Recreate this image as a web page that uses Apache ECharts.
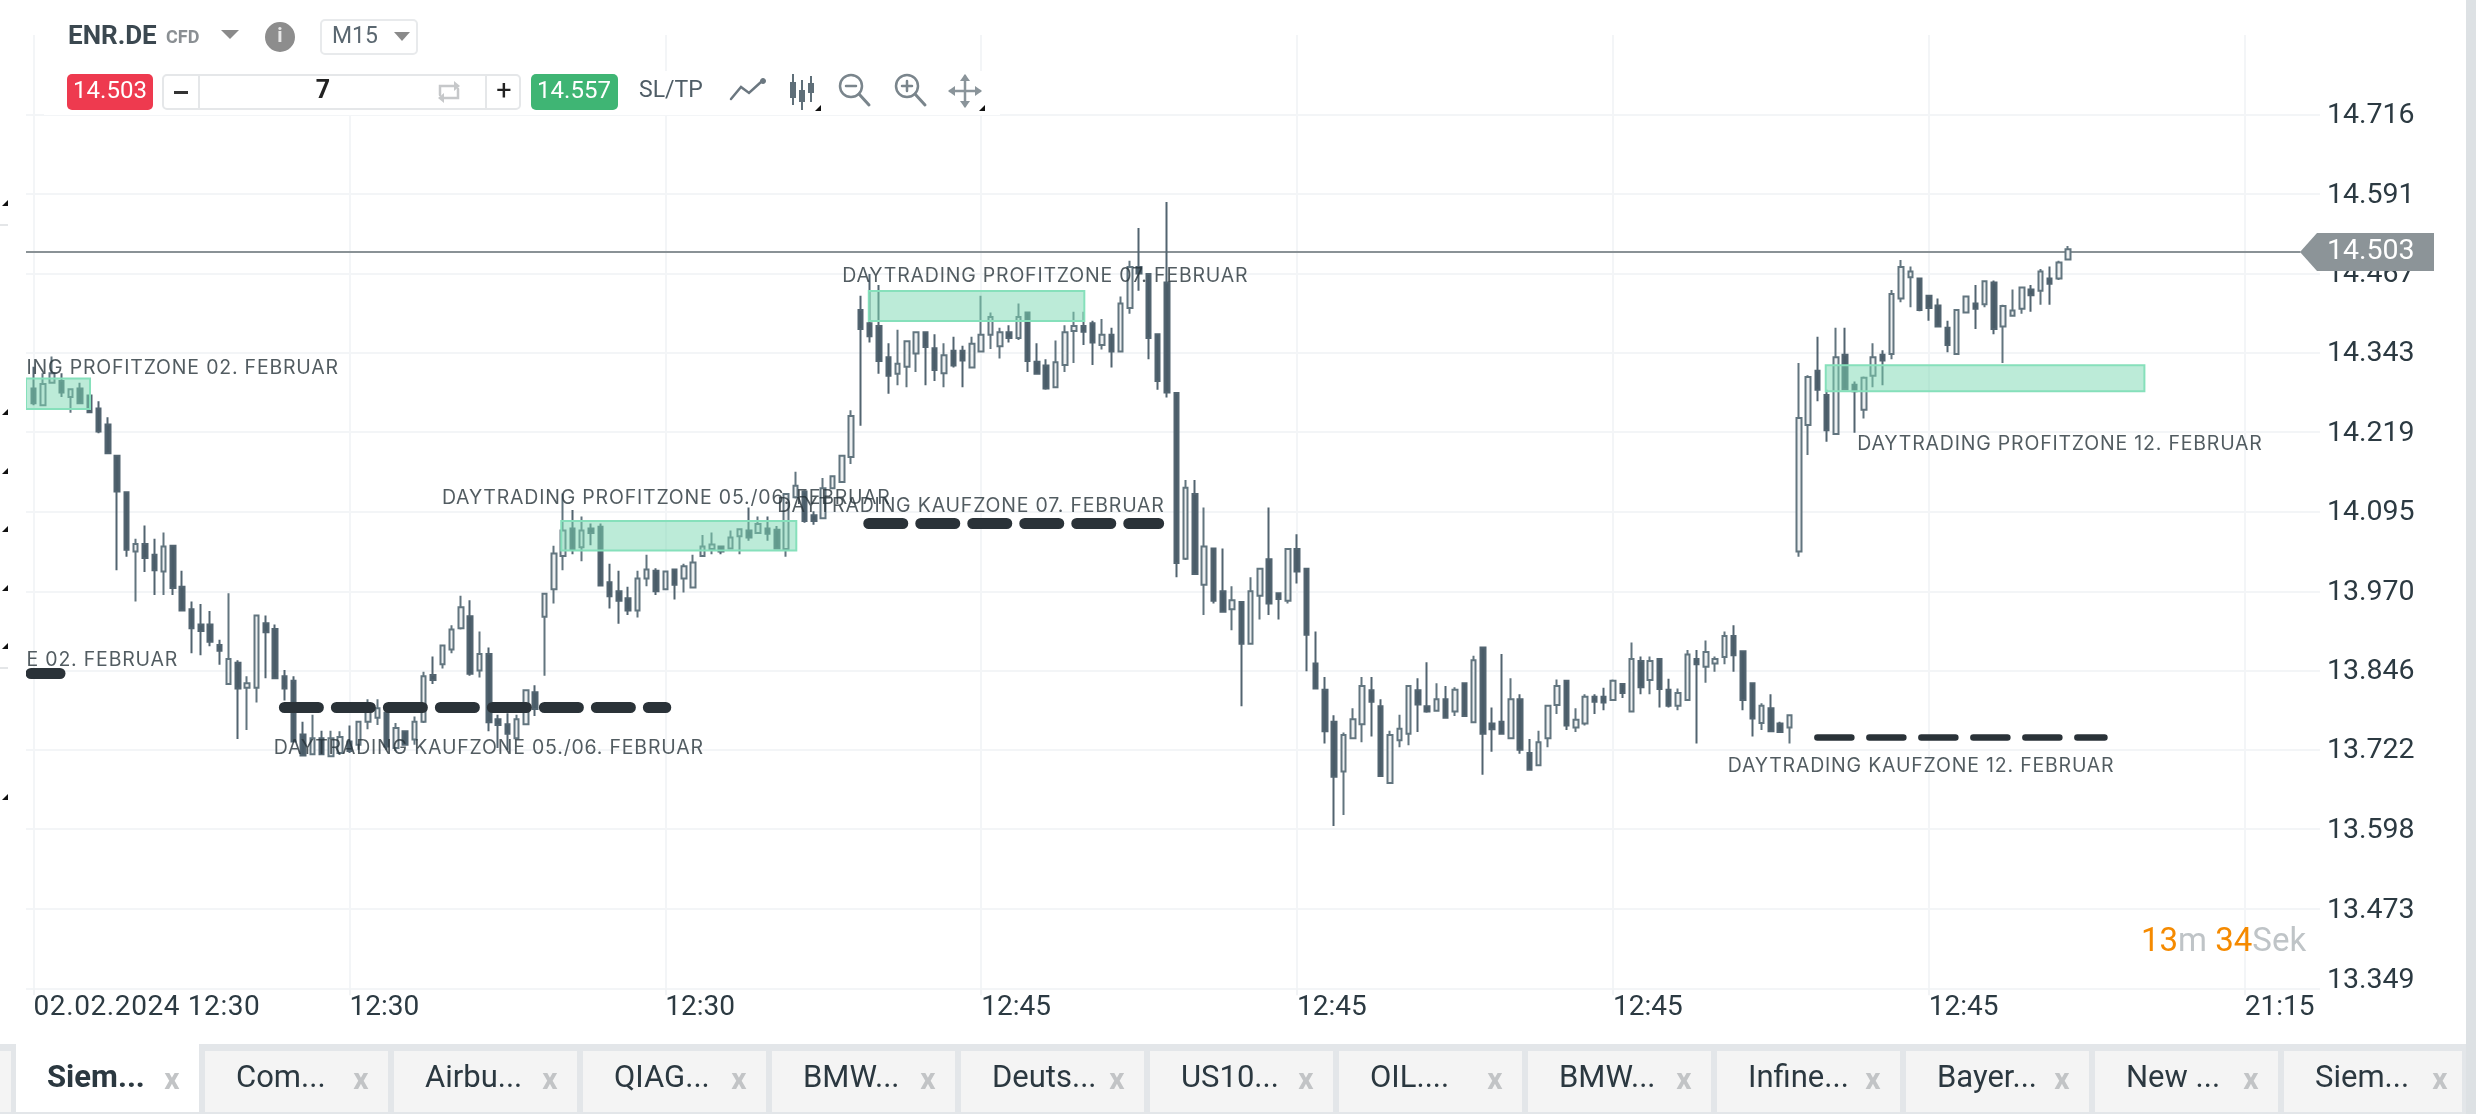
<!DOCTYPE html>
<html>
<head>
<meta charset="utf-8">
<title>ENR.DE M15</title>
<style>
  html,body{margin:0;padding:0;background:#fff;}
  #chart{width:2476px;height:1114px;}
</style>
<script src="https://cdn.jsdelivr.net/npm/echarts@6/dist/echarts.min.js"></script>
</head>
<body>
<div id="chart"></div>
<script>
// kerzen (rows of 10)
const opens = [
  14.287,14.261,14.296,14.299,14.274,14.287,14.276,14.256,14.231,14.182,
  14.125,14.032,14.044,14.027,14.001,14.041,13.977,13.942,13.918,13.918,
  13.886,13.825,13.858,13.819,13.819,13.920,13.911,13.837,13.830,13.746,
  13.715,13.740,13.712,13.717,13.735,13.730,13.766,13.772,13.780,13.725,
  13.751,13.738,13.766,13.839,13.856,13.879,13.912,13.931,13.846,13.872,
  13.770,13.762,13.740,13.762,13.812,13.930,13.973,14.025,14.068,14.039,
  14.068,14.071,13.984,13.970,13.959,13.940,13.990,14.002,13.973,14.004,
  13.990,13.976,14.025,14.036,14.040,14.037,14.056,14.065,14.061,14.068,
  14.066,14.036,14.117,14.126,14.089,14.084,14.131,14.141,14.180,14.410,
  14.389,14.385,14.336,14.310,14.321,14.342,14.375,14.350,14.311,14.346,
  14.346,14.320,14.345,14.371,14.353,14.375,14.366,14.406,14.329,14.323,
  14.289,14.324,14.377,14.385,14.389,14.355,14.371,14.345,14.413,14.477,
  14.466,14.372,14.453,14.280,14.021,14.122,13.980,14.037,13.970,13.942,
  13.953,13.888,13.963,14.020,13.967,13.955,14.036,14.005,13.857,13.816,
  13.766,13.688,13.740,13.762,13.815,13.790,13.670,13.737,13.747,13.815,
  13.790,13.783,13.801,13.782,13.826,13.765,13.882,13.763,13.766,13.740,
  13.801,13.717,13.698,13.740,13.792,13.830,13.757,13.763,13.805,13.805,
  13.800,13.825,13.782,13.861,13.831,13.864,13.816,13.791,13.800,13.864,
  13.852,13.857,13.867,13.900,13.876,13.826,13.764,13.787,13.763,13.757,
  14.032,14.230,14.315,14.277,14.216,14.340,14.293,14.254,14.307,14.340,
  14.341,14.428,14.461,14.459,14.432,14.417,14.382,14.341,14.406,14.420,
  14.419,14.453,14.384,14.401,14.412,14.442,14.440,14.459,14.459,14.489
];
const closes = [
  14.264,14.294,14.311,14.281,14.286,14.264,14.250,14.220,14.186,14.126,
  14.035,14.044,14.022,14.003,14.040,13.975,13.940,13.912,13.908,13.891,
  13.877,13.864,13.818,13.826,13.932,13.906,13.834,13.818,13.735,13.713,
  13.740,13.715,13.740,13.742,13.720,13.766,13.787,13.787,13.727,13.756,
  13.730,13.766,13.837,13.831,13.885,13.910,13.945,13.841,13.872,13.765,
  13.761,13.747,13.770,13.815,13.786,13.966,14.029,14.065,14.036,14.065,
  14.061,13.979,13.962,13.955,13.940,13.990,14.004,13.970,14.001,13.980,
  14.009,14.015,14.040,14.043,14.032,14.054,14.067,14.054,14.075,14.060,
  14.037,14.122,14.135,14.080,14.080,14.131,14.150,14.182,14.244,14.380,
  14.369,14.330,14.307,14.326,14.361,14.375,14.352,14.316,14.339,14.323,
  14.331,14.357,14.371,14.399,14.375,14.366,14.399,14.330,14.310,14.287,
  14.328,14.375,14.385,14.376,14.359,14.371,14.345,14.420,14.477,14.467,
  14.366,14.299,14.281,14.014,14.132,13.997,14.040,13.955,13.938,13.956,
  13.888,13.970,14.005,13.951,13.958,14.036,14.001,13.902,13.818,13.751,
  13.680,13.745,13.770,13.822,13.797,13.681,13.745,13.755,13.822,13.793,
  13.782,13.801,13.772,13.816,13.775,13.862,13.747,13.754,13.747,13.801,
  13.722,13.691,13.734,13.791,13.822,13.760,13.769,13.805,13.797,13.796,
  13.830,13.811,13.864,13.820,13.861,13.817,13.791,13.811,13.871,13.856,
  13.875,13.864,13.900,13.870,13.800,13.771,13.791,13.751,13.750,13.776,
  14.241,14.305,14.285,14.222,14.336,14.286,14.283,14.304,14.336,14.331,
  14.435,14.477,14.470,14.410,14.413,14.384,14.355,14.410,14.431,14.412,
  14.455,14.380,14.416,14.409,14.445,14.433,14.470,14.451,14.484,14.505
];
const lows = [
  14.261,14.260,14.295,14.274,14.249,14.263,14.249,14.217,14.185,14.003,
  14.024,13.954,14.000,13.964,13.964,13.964,13.939,13.873,13.870,13.884,
  13.855,13.824,13.739,13.753,13.796,13.834,13.834,13.799,13.735,13.712,
  13.715,13.714,13.711,13.714,13.717,13.722,13.754,13.761,13.722,13.720,
  13.729,13.730,13.764,13.825,13.849,13.873,13.910,13.838,13.835,13.751,
  13.725,13.722,13.740,13.761,13.775,13.838,13.951,14.003,14.028,14.017,
  14.042,13.978,13.943,13.919,13.933,13.929,13.978,13.964,13.972,13.957,
  13.968,13.975,14.024,14.028,14.028,14.036,14.028,14.049,14.060,14.049,
  14.036,14.024,14.115,14.077,14.074,14.084,14.131,14.140,14.169,14.229,
  14.359,14.310,14.279,14.292,14.289,14.313,14.292,14.299,14.289,14.320,
  14.289,14.320,14.344,14.349,14.334,14.359,14.363,14.313,14.309,14.285,
  14.289,14.313,14.327,14.355,14.324,14.348,14.320,14.344,14.404,14.440,
  14.333,14.285,14.273,13.992,14.019,13.997,13.933,13.951,13.937,13.909,
  13.790,13.888,13.926,13.933,13.926,13.951,13.982,13.845,13.817,13.732,
  13.603,13.620,13.740,13.734,13.743,13.680,13.669,13.726,13.729,13.750,
  13.780,13.782,13.771,13.775,13.774,13.765,13.683,13.719,13.747,13.739,
  13.716,13.690,13.697,13.726,13.778,13.753,13.750,13.760,13.778,13.784,
  13.799,13.803,13.781,13.809,13.809,13.788,13.788,13.784,13.799,13.732,
  13.827,13.844,13.856,13.844,13.784,13.743,13.753,13.750,13.750,13.732,
  14.024,14.183,14.267,14.204,14.215,14.286,14.218,14.240,14.289,14.292,
  14.333,14.422,14.414,14.408,14.393,14.383,14.344,14.341,14.405,14.380,
  14.414,14.372,14.327,14.401,14.404,14.407,14.418,14.418,14.457,14.488
];
const highs = [
  14.321,14.311,14.337,14.311,14.287,14.296,14.277,14.267,14.242,14.182,
  14.126,14.052,14.073,14.052,14.062,14.041,14.002,13.954,13.950,13.939,
  13.894,13.967,13.862,13.837,13.932,13.932,13.918,13.847,13.837,13.766,
  13.777,13.752,13.752,13.751,13.760,13.766,13.801,13.801,13.781,13.764,
  13.751,13.774,13.844,13.868,13.886,13.917,13.963,13.956,13.907,13.882,
  13.777,13.779,13.777,13.815,13.823,13.966,14.041,14.123,14.097,14.087,
  14.076,14.076,14.013,14.002,13.977,14.002,14.027,14.006,14.001,14.005,
  14.013,14.027,14.058,14.062,14.041,14.065,14.068,14.101,14.087,14.087,
  14.072,14.122,14.157,14.128,14.095,14.147,14.151,14.182,14.253,14.432,
  14.466,14.449,14.358,14.379,14.362,14.375,14.375,14.372,14.358,14.368,
  14.354,14.368,14.432,14.406,14.382,14.386,14.420,14.407,14.358,14.333,
  14.362,14.386,14.407,14.407,14.393,14.396,14.382,14.431,14.487,14.538,
  14.467,14.372,14.579,14.281,14.144,14.144,14.101,14.038,14.037,13.978,
  13.953,13.992,14.006,14.101,13.968,14.037,14.059,14.006,13.907,13.836,
  13.776,13.749,13.787,13.836,13.836,13.801,13.752,13.777,13.823,13.834,
  13.859,13.826,13.822,13.820,13.826,13.869,13.883,13.788,13.872,13.834,
  13.809,13.739,13.752,13.792,13.832,13.830,13.787,13.809,13.809,13.819,
  13.832,13.826,13.890,13.868,13.868,13.865,13.833,13.818,13.878,13.878,
  13.893,13.868,13.907,13.917,13.876,13.826,13.795,13.809,13.766,13.777,
  14.327,14.308,14.368,14.285,14.382,14.382,14.298,14.306,14.358,14.347,
  14.441,14.488,14.478,14.460,14.432,14.428,14.393,14.410,14.431,14.449,
  14.456,14.456,14.418,14.442,14.445,14.449,14.474,14.478,14.487,14.510
];

const priceTicks = [14.716,14.591,14.467,14.343,14.219,14.095,13.970,13.846,13.722,13.598,13.473,13.349];
const timeTicks = [0,34,68,102,136,170,204,238];
const timeLabels = ['02.02.2024 12:30','12:30','12:30','12:45','12:45','12:45','12:45','21:15'];
const lastPrice = 14.5005;

// [von, bis, oben, unten]
const profitZones = [
  [-0.81,6.08,14.3026,14.2552],
  [56.8,82.1,14.080,14.0336],
  [89.9,113.1,14.4397,14.3928],
  [192.9,227.2,14.3235,14.2828]
];
// [von, bis, preis, strichstaerke]
const buyZones = [
  [-0.27,2.85,13.841,11],
  [27.0,68.05,13.788,11],
  [89.9,121.1,14.077,11],
  [192.0,222.9,13.742,6.5]
];
const noteX = [-0.81,-0.81,25.8,43.9,80.0,87.0,196.25,182.3];
const noteY = [14.3187,13.863,13.725,14.1164,14.1026,14.4632,14.2005,13.697];
const noteText = [
  'ING PROFITZONE 02. FEBRUAR',
  'E 02. FEBRUAR',
  'DAYTRADING KAUFZONE 05./06. FEBRUAR',
  'DAYTRADING PROFITZONE 05./06. FEBRUAR',
  'DAYTRADING KAUFZONE 07. FEBRUAR',
  'DAYTRADING PROFITZONE 07. FEBRUAR',
  'DAYTRADING PROFITZONE 12. FEBRUAR',
  'DAYTRADING KAUFZONE 12. FEBRUAR'
];
const tabNames = ['Siem...','Com...','Airbu...','QIAG...','BMW...','Deuts...','US10...','OIL....','BMW...','Infine...','Bayer...','New ...','Siem...'];

const FONT = 'Roboto';

// zrender kennt kein letter-spacing, die notizen sind im original gesperrt
const rawFillText = CanvasRenderingContext2D.prototype.fillText;
CanvasRenderingContext2D.prototype.fillText = function(t,x,y,w){
  this.letterSpacing = this.font.includes('Inter') ? '0.8px' : (String(t).startsWith('02.02') ? '0.6px' : '0px');
  return rawFillText.call(this,t,x,y,w);
};

const chart = echarts.init(document.getElementById('chart'));

const rect = (x,y,w,h,fill,r,stroke,z)=>({type:'rect',shape:{x,y,width:w,height:h,r:r||0},
  style:{fill,stroke:stroke||null,lineWidth:stroke?2:0},z:z||20,silent:true});
const txt = (x,y,text,size,fill,opt)=>({type:'text',x,y,z:(opt&&opt.z)||21,silent:true,
  style:Object.assign({text,fill,font:`${(opt&&opt.weight)||'normal'} ${size}px ${FONT}`,
    textVerticalAlign:'middle',textAlign:(opt&&opt.align)||'left'},opt&&opt.style)});
const tri = (pts,fill,z)=>({type:'polygon',shape:{points:pts},style:{fill},z:z||21,silent:true});
const poly = (pts,stroke,w)=>({type:'polyline',shape:{points:pts},style:{stroke,lineWidth:w||2,fill:null,lineCap:'round'},z:21,silent:true});
const circ = (cx,cy,r,stroke,w,fill)=>({type:'circle',shape:{cx,cy,r},style:{stroke,lineWidth:w||2,fill:fill||'none'},z:21,silent:true});

function chrome(){
  const g = [];
  // linker rand + streifen rechts
  g.push(rect(0,0,26,1044,'#fff',0,null,18));
  g.push(rect(2466,0,10,1114,'#dde1e4'));
  [412,471,529,588,646,797,203].forEach(y=>g.push(tri([[2,y+3],[8,y+3],[8,y-3]],'#111')));
  g.push(rect(0,224,8,2,'#e4e6e8'));
  g.push(rect(0,667,8,2,'#e4e6e8'));

  // toolbar
  g.push(rect(44,35,386,36,'#fff',0,null,18));
  g.push(rect(44,71,956,44,'#fff',0,null,18));
  g.push(txt(68,37,'ENR.DE',26,'#3b4850',{weight:'bold'}));
  g.push(txt(166,38,'CFD',18,'#8a8f93',{weight:'bold'}));
  g.push(tri([[221,30],[239,30],[230,39]],'#8a8a8a'));
  g.push(circ(280,37,14,'#8d8d8d',0,'#8d8d8d'));
  g.push(txt(280,37,'i',20,'#e8e8e8',{weight:'bold',align:'center'}));
  g.push(rect(321,20,96,34,'#fff',4,'#e8eaec'));
  g.push(txt(332,37,'M15',23,'#5a6770'));
  g.push(tri([[394,32],[410,32],[402,41]],'#8a8a8a'));

  g.push(rect(67,74,86,36,'#ee3a4f',5));
  g.push(txt(110,92,'14.503',24,'#fff',{align:'center'}));
  g.push(rect(163,75,357,34,'#fff',4,'#e5e7e9'));
  g.push(rect(198,75,2,34,'#e5e7e9'));
  g.push(rect(485,75,2,34,'#e5e7e9'));
  g.push(rect(174,91,14,3,'#333'));
  g.push(txt(323,92,'7',25,'#222',{align:'center',weight:'bold'}));
  g.push(txt(504,92,'+',27,'#222',{align:'center'}));
  g.push(poly([[440,95],[440,86],[457,86]],'#c6c8ca',2.5));
  g.push(tri([[454,81],[460,86],[454,91]],'#c6c8ca'));
  g.push(poly([[458,89],[458,98],[441,98]],'#c6c8ca',2.5));
  g.push(tri([[444,93],[438,98],[444,103]],'#c6c8ca'));
  g.push(rect(531,74,87,36,'#3fb574',5));
  g.push(txt(574,92,'14.557',24,'#fff',{align:'center'}));
  g.push(txt(639,91,'SL/TP',23,'#4f5d66'));

  // icons
  g.push(poly([[731,99],[741,87],[749,93],[761,82]],'#6b7780',2.5));
  g.push(circ(763,81,2.5,'#6b7780',1,'#6b7780'));
  [[793,90,74,105,16],[802,96,80,110,12],[811,88,76,102,10]].forEach(c=>{
    g.push(rect(c[0]-1,c[2],2,c[3]-c[2],'#5f6f79'));
    g.push(rect(c[0]-3,c[1]-c[4]/2,6,c[4],'#5f6f79'));
  });
  g.push(tri([[815,111],[821,111],[821,105]],'#111'));
  g.push(circ(851,86,11,'#7a858c',2.5));
  g.push(poly([[859,94],[869,105]],'#7a858c',3));
  g.push(poly([[846,86],[856,86]],'#7a858c',2.5));
  g.push(circ(907,86,11,'#7a858c',2.5));
  g.push(poly([[915,94],[925,105]],'#7a858c',3));
  g.push(poly([[902,86],[912,86]],'#7a858c',2.5));
  g.push(poly([[907,81],[907,91]],'#7a858c',2.5));
  g.push(poly([[965,76],[965,106]],'#8a949a',2.5));
  g.push(poly([[950,91],[980,91]],'#8a949a',2.5));
  g.push(tri([[960,81],[970,81],[965,74]],'#8a949a'));
  g.push(tri([[960,101],[970,101],[965,108]],'#8a949a'));
  g.push(tri([[955,86],[955,96],[948,91]],'#8a949a'));
  g.push(tri([[975,86],[975,96],[982,91]],'#8a949a'));
  g.push(tri([[979,111],[985,111],[985,105]],'#111'));

  // countdown
  g.push({type:'text',x:2141,y:943,z:21,silent:true,style:{
    text:'{o|13}{g|m }{o|34}{g|Sek}',textVerticalAlign:'middle',
    rich:{o:{fill:'#f58a00',font:`33px ${FONT}`},g:{fill:'#bfc4c7',font:`33px ${FONT}`}}}});

  // tabs
  g.push(rect(0,1044,2466,70,'#e3e6e9'));
  g.push(rect(0,1051,11,61,'#f4f4f4'));
  tabNames.forEach((name,i)=>{
    const active = i===0;
    const x = 16+189*i;
    const w = i===tabNames.length-1 ? 178 : 183;
    g.push(active ? rect(x,1044,w,68,'#fff') : rect(x,1051,w,61,'#f4f4f4'));
    g.push(txt(x+31,1079,name,31,'#2b3840',{weight:active?'bold':'normal'}));
    g.push(txt(172+189*i,1081,'x',30,'#c2c4c6',{align:'center',weight:'bold'}));
  });

  // preis-tag, an die y-achse gehaengt
  const py = chart.convertToPixel({yAxisIndex:0},lastPrice);
  g.push(tri([[2300,py],[2317,py-19],[2434,py-19],[2434,py+19],[2317,py+19]],'#8c9498'));
  g.push(txt(2327,py,'14.503',28.5,'#fff'));
  return g;
}

chart.setOption({
  animation:false,
  backgroundColor:'#fff',
  grid:{left:26,right:156,top:35,bottom:125.7},
  xAxis:{
    type:'value',min:-0.81,max:246.1,
    axisLine:{show:false},
    axisTick:{show:true,length:7,customValues:timeTicks,lineStyle:{color:'#f1f3f5',width:2}},
    splitLine:{show:true,lineStyle:{color:'#f3f5f7',width:2}},
    axisLabel:{
      customValues:timeTicks,align:'left',margin:6,hideOverlap:false,
      color:'#2c3a42',fontFamily:FONT,fontSize:28,
      formatter:v=>timeLabels[timeTicks.indexOf(v)]
    }
  },
  yAxis:{
    type:'value',position:'right',min:13.349,max:14.840,scale:true,
    axisLine:{show:false},
    axisTick:{show:false,customValues:priceTicks},
    splitLine:{show:true,lineStyle:{color:'#f3f5f7',width:2}},
    axisLabel:{
      customValues:priceTicks,margin:7,color:'#2c3a42',fontFamily:FONT,fontSize:28.5,padding:[3,0,0,0],
      formatter:v=>v===13.349?'{low|13.349}':v.toFixed(3),
      rich:{low:{color:'#2c3a42',fontFamily:FONT,fontSize:28.5,padding:[0,0,18,0]}}
    }
  },
  series:[
    {
      name:'ENR.DE',type:'candlestick',z:3,barWidth:5,clip:true,
      data:opens.map((o,i)=>[i,o,closes[i],lows[i],highs[i]]),
      encode:{x:0,y:[1,2,3,4]},
      itemStyle:{color:'#eef1f2',color0:'#4a5c68',borderColor:'#62757f',borderColor0:'#526470',borderWidth:2},
      markLine:{
        silent:true,symbol:'none',z:1,animation:false,label:{show:false},
        lineStyle:{color:'#8a9296',width:2,type:'solid'},
        data:[[{coord:[-0.81,lastPrice]},{coord:[244,lastPrice]}]]
      }
    },
    {
      name:'zonen',type:'line',data:[],z:6,
      markArea:{
        silent:true,z:6,animation:false,
        itemStyle:{color:'rgba(121,215,177,0.5)',borderColor:'#86e0bb',borderWidth:2},
        data:profitZones.map(a=>[{coord:[a[0],a[2]]},{coord:[a[1],a[3]]}])
      }
    },
    {
      name:'kaufzonen',type:'line',data:[],z:7,
      markLine:{
        silent:true,symbol:'none',z:7,animation:false,label:{show:false},
        data:buyZones.map(a=>{
          const ls = {color:'#2a3238',width:a[3],type:[34,18],cap:'round'};
          return [{coord:[a[0],a[2]],lineStyle:ls},{coord:[a[1],a[2]],lineStyle:ls}];
        })
      }
    },
    {
      name:'notizen',type:'scatter',z:8,symbolSize:1,silent:true,
      itemStyle:{color:'rgba(0,0,0,0)'},
      data:noteText.map((t,i)=>({value:[noteX[i],noteY[i]],name:t})),
      label:{show:true,position:'right',distance:0,formatter:p=>p.name,
        color:'#27333a',fontFamily:'Inter',fontSize:19.5}
    }
  ]
});
chart.setOption({graphic:chrome()});
</script>
</body>
</html>
